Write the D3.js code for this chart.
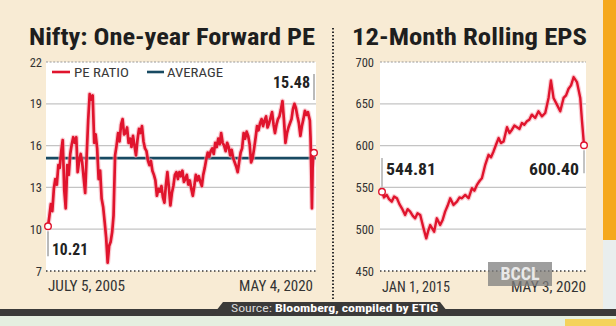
<!DOCTYPE html>
<html><head><meta charset="utf-8">
<script src="https://cdn.jsdelivr.net/npm/d3@7/dist/d3.min.js"></script>
<style>
html,body{margin:0;padding:0;background:#f8ebd4;}
svg{display:block;}
text{font-family:"Liberation Sans Narrow","Roboto Condensed","Arial Narrow","Liberation Sans",Roboto,sans-serif;}
</style></head>
<body>
<svg id="c" width="616" height="326"></svg>
<script>
// ---------- DATA ----------
const peDates = ["2005-07-05","2005-08","2005-09","2005-10","2005-11","2005-12","2006-01","2006-02","2006-03","2006-04","2006-05","2006-06","2006-07","2006-08","2006-09","2006-10","2006-11","2006-12",
"2007-01","2007-02","2007-03","2007-04","2007-05","2007-06","2007-07","2007-08","2007-09","2007-10","2007-11","2007-12",
"2008-01","2008-02","2008-03","2008-04","2008-05","2008-06","2008-07","2008-08","2008-09","2008-10","2008-11","2008-12",
"2009-01","2009-02","2009-03","2009-04","2009-05","2009-06","2009-07","2009-08","2009-09","2009-10","2009-11","2009-12",
"2010-01","2010-02","2010-03","2010-04","2010-05","2010-06","2010-07","2010-08","2010-09","2010-10","2010-11","2010-12",
"2011-01","2011-02","2011-03","2011-04","2011-05","2011-06","2011-07","2011-08","2011-09","2011-10","2011-11","2011-12",
"2012-01","2012-02","2012-03","2012-04","2012-05","2012-06","2012-07","2012-08","2012-09","2012-10","2012-11","2012-12",
"2013-01","2013-02","2013-03","2013-04","2013-05","2013-06","2013-07","2013-08","2013-09","2013-10","2013-11","2013-12",
"2014-01","2014-02","2014-03","2014-04","2014-05","2014-06","2014-07","2014-08","2014-09","2014-10","2014-11","2014-12",
"2015-01","2015-02","2015-03","2015-04","2015-05","2015-06","2015-07","2015-08","2015-09","2015-10","2015-11","2015-12",
"2016-01","2016-02","2016-03","2016-04","2016-05","2016-06","2016-07","2016-08","2016-09","2016-10","2016-11","2016-12",
"2017-01","2017-02","2017-03","2017-04","2017-05","2017-06","2017-07","2017-08","2017-09","2017-10","2017-11","2017-12",
"2018-01","2018-02","2018-03","2018-04","2018-05","2018-06","2018-07","2018-08","2018-09","2018-10","2018-11","2018-12",
"2019-01","2019-02","2019-03","2019-04","2019-05","2019-06","2019-07","2019-08","2019-09","2019-10","2019-11","2019-12",
"2020-01","2020-02-10","2020-02-24","2020-03-09","2020-03-23","2020-04-06","2020-04-20","2020-05-04"];
const peValues = [10.21,10.9,11.8,11.3,12.9,13.6,13.2,14.6,14.4,15.6,16.4,12.8,11.5,14.6,13.9,15.4,16.1,16.6,
16.2,16.6,14.1,14.9,15.4,14.8,13.7,12.6,15.3,17.8,19.7,19.3,
19.6,16.2,16.8,15.8,13.6,14.2,12.2,11.6,10.5,9.4,7.6,8.8,
9.1,9.8,11.0,15.3,16.0,16.9,16.3,17.5,17.9,16.8,16.9,17.3,
16.2,16.5,15.9,16.7,16.0,15.3,16.4,17.2,16.9,17.4,16.3,15.8,
15.6,14.9,14.6,14.9,14.2,13.9,13.5,12.4,12.9,12.7,13.1,12.3,
11.9,13.2,14.1,13.0,11.7,12.6,13.1,13.9,14.1,13.6,14.1,13.8,
14.2,13.4,13.6,13.9,13.2,13.5,12.9,12.4,13.1,13.9,13.5,13.8,
13.4,13.1,13.9,14.4,15.0,15.5,15.2,15.6,15.8,15.4,16.2,15.9,
16.5,16.1,16.9,16.2,16.0,15.6,16.2,15.9,15.3,15.7,15.1,14.8,
14.5,14.1,14.8,15.5,15.8,16.9,16.5,17.0,16.7,16.1,14.8,15.1,
15.8,16.6,17.4,17.1,17.6,17.9,17.4,17.8,18.1,17.3,17.6,18.0,
18.4,17.5,16.9,17.5,17.9,18.1,18.6,19.2,17.8,16.2,16.9,17.3,
17.6,17.9,18.6,19.0,18.7,18.1,17.6,16.7,17.4,17.9,18.5,18.2,
18.4,17.8,16.5,14.2,11.5,14.4,15.3,15.48];
const peAverage = 15.1;
const peTicks = [7,10,13,16,19,22];

const epsDates = ["2015-01-01","2015-01-20","2015-02-15","2015-03-10","2015-04-05","2015-04-28","2015-05-25","2015-06-18","2015-07-12","2015-08-12","2015-09-05","2015-09-30","2015-10-25","2015-11-17","2015-12-10",
"2016-01-05","2016-02-06","2016-03-03","2016-03-22","2016-04-10","2016-05-18","2016-06-13","2016-07-15","2016-08-08","2016-09-01","2016-09-25","2016-10-20","2016-11-21","2016-12-24",
"2017-01-18","2017-02-10","2017-03-14","2017-04-15","2017-05-18","2017-06-10","2017-07-05","2017-08-01","2017-08-22","2017-09-23","2017-10-25","2017-11-18","2017-12-12",
"2018-01-05","2018-01-30","2018-02-22","2018-03-19","2018-04-21","2018-05-15","2018-06-08","2018-07-01","2018-07-26","2018-08-20","2018-09-12","2018-10-05","2018-10-30","2018-11-22","2018-12-17",
"2019-01-18","2019-02-19","2019-03-24","2019-04-25","2019-05-27","2019-06-19","2019-07-14","2019-08-16","2019-09-17","2019-10-19","2019-11-12","2019-12-06","2019-12-30",
"2020-01-24","2020-02-25","2020-03-28","2020-04-14","2020-05-03"];
const epsValues = [544.81,538,541,536,533,539,537,530,525,517,524,521,516,513,519,
517,501,489,498,505,497,513,505,511,521,528,537,529,533,
538,537,541,537,549,546,553,558,561,577,589,586,593,
601,609,603,605,622,615,619,624,622,620,627,625,629,631,637,
633,641,635,639,657,678,657,649,641,657,660,668,672,
682,676,657,629,600.40];
const epsTicks = [450,500,550,600,650,700];

// ---------- SETUP ----------
const svg = d3.select("#c");
const parse = s => s.length === 7 ? d3.timeParse("%Y-%m")(s) : d3.timeParse("%Y-%m-%d")(s);
const peData = peDates.map((d,i)=>({date:parse(d), v:peValues[i]}));
const epsData = epsDates.map((d,i)=>({date:parse(d), v:epsValues[i]}));

const RED = "#e0142d", NAVY = "#184a62";

svg.append("rect").attr("x",0).attr("y",0).attr("width",616).attr("height",326).attr("fill","#f8ebd4");
svg.append("rect").attr("x",603).attr("y",0).attr("width",13).attr("height",240).attr("fill","#f5a81e");
svg.append("rect").attr("x",603).attr("y",240).attr("width",13).attr("height",70).attr("fill","#e9eeee");

function panel(cfg){
  const x = d3.scaleTime().domain(d3.extent(cfg.data,d=>d.date)).range(cfg.xr);
  const y = d3.scaleLinear().domain(cfg.ydom).range([271,62]);
  const g = svg.append("g");
  g.append("rect").attr("x",cfg.xr[0]-2).attr("y",y(cfg.ydom[1])).attr("width",cfg.xr[1]-cfg.xr[0]+4)
    .attr("height",y(cfg.ydom[0])-y(cfg.ydom[1])).attr("fill","#ffffff");
  cfg.ticks.forEach((t,i)=>{
    const top = i===cfg.ticks.length-1, bot = i===0;
    g.append("line").attr("x1",cfg.xr[0]-2).attr("x2",cfg.xr[1]+2).attr("y1",y(t)).attr("y2",y(t))
      .attr("stroke", bot ? "#3a3a3a" : (top ? "#9a9a9a" : "#c4c4c4"))
      .attr("stroke-width", bot ? 1.6 : 1.2)
      .attr("stroke-dasharray", bot ? "1.5,2.5" : (top ? "2,1.6" : null));
  });
  g.selectAll(".yl").data(cfg.ticks).join("text")
    .attr("x",cfg.labelX).attr("y",d=>y(d)).attr("dy","0.36em").attr("text-anchor","end")
    .attr("font-size",12.5).attr("fill","#333").text(d=>d);
  return {x,y,g};
}

// ---------- LEFT PANEL ----------
const L = panel({data:peData, xr:[48,314], ydom:[7,22], ticks:peTicks, labelX:42});
L.g.append("line").attr("x1",46).attr("x2",316).attr("y1",L.y(peAverage)).attr("y2",L.y(peAverage))
  .attr("stroke",NAVY).attr("stroke-width",2.6);
const peLine = d3.line().x(d=>L.x(d.date)).y(d=>L.y(d.v));
L.g.append("path").datum(peData).attr("d",peLine).attr("fill","none").attr("stroke","#f5a3ad").attr("stroke-width",5).attr("stroke-linejoin","round").attr("opacity",0.55);
L.g.append("path").datum(peData).attr("d",peLine).attr("fill","none").attr("stroke",RED).attr("stroke-width",2.7).attr("stroke-linejoin","round");
L.g.append("line").attr("x1",52).attr("x2",70).attr("y1",72).attr("y2",72).attr("stroke",RED).attr("stroke-width",2.6);
L.g.append("text").attr("x",74).attr("y",77).attr("font-size",13).attr("fill","#3a3a3a").attr("textLength",55).attr("lengthAdjust","spacingAndGlyphs").text("PE RATIO");
L.g.append("line").attr("x1",147).attr("x2",164).attr("y1",72).attr("y2",72).attr("stroke",NAVY).attr("stroke-width",2.6);
L.g.append("text").attr("x",167).attr("y",77).attr("font-size",13).attr("fill","#3a3a3a").attr("textLength",56).attr("lengthAdjust","spacingAndGlyphs").text("AVERAGE");
const pf = peData[0], pl = peData[peData.length-1];
L.g.append("line").attr("x1",L.x(pf.date)).attr("x2",L.x(pf.date)).attr("y1",L.y(pf.v)+5).attr("y2",L.y(pf.v)+30).attr("stroke","#777").attr("stroke-width",1);
L.g.append("text").attr("x",L.x(pf.date)+4).attr("y",255).attr("font-size",16).attr("font-weight","bold").attr("fill","#222").attr("textLength",36).attr("lengthAdjust","spacingAndGlyphs").text(d3.format(".2f")(pf.v));
L.g.append("line").attr("x1",L.x(pl.date)).attr("x2",L.x(pl.date)).attr("y1",74).attr("y2",100).attr("stroke","#777").attr("stroke-width",1);
L.g.append("text").attr("x",L.x(pl.date)-4).attr("y",88).attr("text-anchor","end").attr("font-size",16).attr("font-weight","bold").attr("fill","#222").attr("textLength",37).attr("lengthAdjust","spacingAndGlyphs").text(d3.format(".2f")(pl.v));
[pf,pl].forEach(p=>L.g.append("circle").attr("cx",L.x(p.date)).attr("cy",L.y(p.v)).attr("r",3.3).attr("fill","#fff").attr("stroke",RED).attr("stroke-width",1.4));
L.g.append("text").attr("x",48).attr("y",291).attr("font-size",14).attr("fill","#333").attr("textLength",77).attr("lengthAdjust","spacingAndGlyphs").text("JULY 5, 2005");
L.g.append("text").attr("x",239).attr("y",291).attr("font-size",14).attr("fill","#333").attr("textLength",74).attr("lengthAdjust","spacingAndGlyphs").text("MAY 4, 2020");
svg.append("text").attr("x",29).attr("y",45).attr("font-size",24).attr("font-weight","bold").attr("fill","#1e1e1e").attr("textLength",286).attr("lengthAdjust","spacingAndGlyphs").text("Nifty: One-year Forward PE");

// ---------- RIGHT PANEL ----------
const R = panel({data:epsData, xr:[382,584], ydom:[450,700], ticks:epsTicks, labelX:374});
const epsLine = d3.line().x(d=>R.x(d.date)).y(d=>R.y(d.v));
R.g.append("path").datum(epsData).attr("d",epsLine).attr("fill","none").attr("stroke","#f5a3ad").attr("stroke-width",4.8).attr("stroke-linejoin","round").attr("opacity",0.55);
R.g.append("path").datum(epsData).attr("d",epsLine).attr("fill","none").attr("stroke",RED).attr("stroke-width",2.4).attr("stroke-linejoin","round");
const ef = epsData[0], el = epsData[epsData.length-1];
R.g.append("line").attr("x1",R.x(ef.date)).attr("x2",R.x(ef.date)).attr("y1",158).attr("y2",R.y(ef.v)-5).attr("stroke","#888").attr("stroke-width",1);
R.g.append("text").attr("x",R.x(ef.date)+4).attr("y",175).attr("font-size",16).attr("font-weight","bold").attr("fill","#222").attr("textLength",50).attr("lengthAdjust","spacingAndGlyphs").text(d3.format(".2f")(ef.v));
R.g.append("line").attr("x1",R.x(el.date)).attr("x2",R.x(el.date)).attr("y1",R.y(el.v)+5).attr("y2",R.y(el.v)+28).attr("stroke","#888").attr("stroke-width",1);
R.g.append("text").attr("x",R.x(el.date)-5).attr("y",175).attr("text-anchor","end").attr("font-size",16).attr("font-weight","bold").attr("fill","#222").attr("textLength",50).attr("lengthAdjust","spacingAndGlyphs").text(d3.format(".2f")(el.v));
[ef,el].forEach(p=>R.g.append("circle").attr("cx",R.x(p.date)).attr("cy",R.y(p.v)).attr("r",3.3).attr("fill","#fff").attr("stroke",RED).attr("stroke-width",1.4));
R.g.append("text").attr("x",382).attr("y",292).attr("font-size",14).attr("fill","#333").attr("textLength",68).attr("lengthAdjust","spacingAndGlyphs").text("JAN 1, 2015");
R.g.append("text").attr("x",511).attr("y",292).attr("font-size",14).attr("fill","#333").attr("textLength",75).attr("lengthAdjust","spacingAndGlyphs").text("MAY 3, 2020");
svg.append("text").attr("x",352).attr("y",45).attr("font-size",24).attr("font-weight","bold").attr("fill","#1e1e1e").attr("textLength",235).attr("lengthAdjust","spacingAndGlyphs").text("12-Month Rolling EPS");

// BCCL watermark (overlaps the date label, as in the reference)
svg.append("rect").attr("x",488).attr("y",262).attr("width",64).attr("height",24).attr("fill","#7d7d7d").attr("opacity",0.75);
svg.append("text").attr("x",520).attr("y",280).attr("text-anchor","middle").attr("font-size",18).attr("font-weight","bold").attr("fill","#f2f2f2").attr("opacity",0.9).text("BCCL");

svg.append("line").attr("x1",333).attr("x2",333).attr("y1",28).attr("y2",300).attr("stroke","#2e2e2e").attr("stroke-width",2).attr("stroke-dasharray","1.5,2");

svg.append("rect").attr("x",0).attr("y",309).attr("width",616).attr("height",7).attr("fill","#3b3a39");
svg.append("path").attr("d","M212,316 L223,302 L440,302 L451,316 Z").attr("fill","#3b3a39");
svg.append("rect").attr("x",0).attr("y",316).attr("width",616).attr("height",10).attr("fill","#e5efe0");
svg.append("rect").attr("x",565).attr("y",319).attr("width",51).attr("height",7).attr("fill","#f4d35c");
const src = svg.append("text").attr("x",231).attr("y",312).attr("font-size",11).attr("fill","#d8d8d8").attr("textLength",207).attr("lengthAdjust","spacingAndGlyphs");
src.append("tspan").text("Source: ");
src.append("tspan").attr("font-weight","bold").attr("fill","#ffffff").text("Bloomberg, compiled by ETIG");
</script>
</body></html>
